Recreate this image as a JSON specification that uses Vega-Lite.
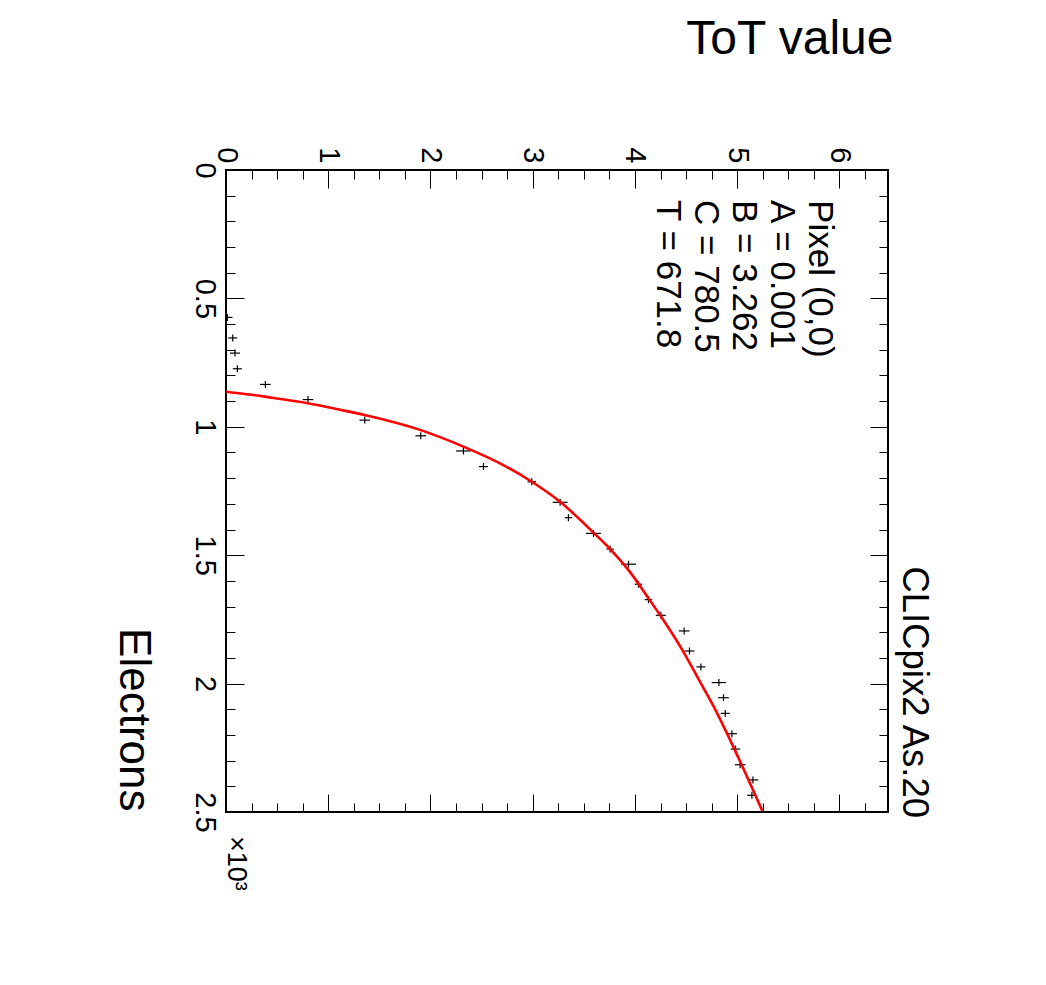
{
  "$schema": "https://vega.github.io/schema/vega-lite/v6.json",
  "width": 662,
  "height": 642,
  "autosize": {"type": "none"},
  "padding": {"left": 226, "top": 170, "right": 158, "bottom": 173},
  "background": "white",
  "config": {
    "view": {"stroke": "black", "strokeWidth": 2},
    "axis": {
      "domain": false,
      "grid": false,
      "tickColor": "black",
      "tickWidth": 1,
      "labelFont": "Liberation Sans",
      "labelFontSize": 29,
      "labelColor": "black",
      "titleFont": "Liberation Sans",
      "titleFontWeight": "normal",
      "titleColor": "black",
      "labelOverlap": false,
      "labelFlush": false,
      "labelBound": false
    }
  },
  "datasets": {
    "points": [
      {"e": 0.574, "tot": 0.013, "tot_lo": -0.037, "tot_hi": 0.063},
      {"e": 0.654, "tot": 0.066, "tot_lo": 0.022, "tot_hi": 0.110},
      {"e": 0.713, "tot": 0.088, "tot_lo": 0.039, "tot_hi": 0.137},
      {"e": 0.774, "tot": 0.111, "tot_lo": 0.067, "tot_hi": 0.155},
      {"e": 0.835, "tot": 0.385, "tot_lo": 0.333, "tot_hi": 0.437},
      {"e": 0.894, "tot": 0.802, "tot_lo": 0.750, "tot_hi": 0.854},
      {"e": 0.974, "tot": 1.357, "tot_lo": 1.305, "tot_hi": 1.409},
      {"e": 1.035, "tot": 1.905, "tot_lo": 1.853, "tot_hi": 1.957},
      {"e": 1.094, "tot": 2.322, "tot_lo": 2.249, "tot_hi": 2.395},
      {"e": 1.155, "tot": 2.518, "tot_lo": 2.474, "tot_hi": 2.562},
      {"e": 1.214, "tot": 2.991, "tot_lo": 2.949, "tot_hi": 3.033},
      {"e": 1.294, "tot": 3.268, "tot_lo": 3.195, "tot_hi": 3.341},
      {"e": 1.354, "tot": 3.349, "tot_lo": 3.313, "tot_hi": 3.385},
      {"e": 1.415, "tot": 3.594, "tot_lo": 3.521, "tot_hi": 3.667},
      {"e": 1.476, "tot": 3.757, "tot_lo": 3.721, "tot_hi": 3.793},
      {"e": 1.535, "tot": 3.937, "tot_lo": 3.864, "tot_hi": 4.010},
      {"e": 1.613, "tot": 4.034, "tot_lo": 3.998, "tot_hi": 4.070},
      {"e": 1.673, "tot": 4.132, "tot_lo": 4.095, "tot_hi": 4.169},
      {"e": 1.734, "tot": 4.253, "tot_lo": 4.204, "tot_hi": 4.302},
      {"e": 1.795, "tot": 4.481, "tot_lo": 4.429, "tot_hi": 4.533},
      {"e": 1.873, "tot": 4.533, "tot_lo": 4.484, "tot_hi": 4.582},
      {"e": 1.935, "tot": 4.645, "tot_lo": 4.601, "tot_hi": 4.689},
      {"e": 1.996, "tot": 4.821, "tot_lo": 4.751, "tot_hi": 4.891},
      {"e": 2.055, "tot": 4.866, "tot_lo": 4.814, "tot_hi": 4.918},
      {"e": 2.116, "tot": 4.883, "tot_lo": 4.839, "tot_hi": 4.927},
      {"e": 2.195, "tot": 4.948, "tot_lo": 4.899, "tot_hi": 4.997},
      {"e": 2.255, "tot": 4.983, "tot_lo": 4.937, "tot_hi": 5.029},
      {"e": 2.316, "tot": 5.029, "tot_lo": 4.977, "tot_hi": 5.081},
      {"e": 2.375, "tot": 5.154, "tot_lo": 5.102, "tot_hi": 5.206},
      {"e": 2.435, "tot": 5.144, "tot_lo": 5.098, "tot_hi": 5.190}
    ],
    "fit": [
      {"e": 0.8633, "tot": 0.0},
      {"e": 0.875, "tot": 0.25},
      {"e": 0.8867, "tot": 0.45},
      {"e": 0.908, "tot": 0.802},
      {"e": 0.930, "tot": 1.07},
      {"e": 0.954, "tot": 1.357},
      {"e": 1.012, "tot": 1.898},
      {"e": 1.077, "tot": 2.322},
      {"e": 1.149, "tot": 2.713},
      {"e": 1.214, "tot": 2.991},
      {"e": 1.292, "tot": 3.268},
      {"e": 1.412, "tot": 3.594},
      {"e": 1.476, "tot": 3.757},
      {"e": 1.558, "tot": 3.937},
      {"e": 1.672, "tot": 4.140},
      {"e": 1.739, "tot": 4.255},
      {"e": 1.859, "tot": 4.448},
      {"e": 1.999, "tot": 4.645},
      {"e": 2.090, "tot": 4.771},
      {"e": 2.194, "tot": 4.900},
      {"e": 2.313, "tot": 5.040},
      {"e": 2.414, "tot": 5.155},
      {"e": 2.495, "tot": 5.245}
    ],
    "info": [
      {"label": "Pixel (0,0)\nA = 0.001\nB = 3.262\nC = 780.5\nT = 671.8"}
    ],
    "scale_note": [
      {"label": "×10³"}
    ],
    "heading": [
      {"label": "CLICpix2 As.20"}
    ]
  },
  "layer": [
    {
      "data": {"name": "points"},
      "mark": {"type": "rule", "color": "black", "strokeWidth": 1.2, "clip": true},
      "encoding": {
        "x": {
          "field": "tot_lo", "type": "quantitative",
          "scale": {"domain": [0, 6.475], "nice": false, "zero": false},
          "title": "ToT value",
          "axis": {
            "orient": "top", "values": [0, 1, 2, 3, 4, 5, 6], "offset": -18, "tickSize": 18,
            "labelAngle": 90, "labelAlign": "right", "labelBaseline": "middle", "labelPadding": 7, "format": "~g",
            "titleFontSize": 48, "titleAngle": 0, "titleAlign": "right", "titleBaseline": "alphabetic",
            "titleX": 667, "titleY": -135
          }
        },
        "x2": {"field": "tot_hi"},
        "y": {
          "field": "e", "type": "quantitative",
          "scale": {"domain": [0, 2.5], "nice": false, "zero": false, "reverse": true},
          "title": "Electrons",
          "axis": {
            "orient": "left", "values": [0, 0.5, 1, 1.5, 2, 2.5], "offset": -18, "tickSize": 18,
            "labelAngle": 90, "labelAlign": "center", "labelBaseline": "top", "labelPadding": 8, "format": "~g",
            "titleFontSize": 44, "titleAngle": 90, "titleAlign": "right", "titleBaseline": "top",
            "titleX": -90, "titleY": 641
          }
        }
      }
    },
    {
      "data": {"name": "points"},
      "mark": {"type": "tick", "orient": "vertical", "size": 7, "thickness": 1.2, "color": "black", "opacity": 1},
      "encoding": {
        "x": {
          "field": "tot", "type": "quantitative",
          "scale": {"domain": [0, 6.475], "nice": false, "zero": false},
          "title": null,
          "axis": {
            "orient": "top", "offset": -9, "tickSize": 9, "labels": false,
            "values": [0.25, 0.5, 0.75, 1.25, 1.5, 1.75, 2.25, 2.5, 2.75, 3.25, 3.5, 3.75, 4.25, 4.5, 4.75, 5.25, 5.5, 5.75, 6.25]
          }
        },
        "y": {
          "field": "e", "type": "quantitative",
          "scale": {"domain": [0, 2.5], "nice": false, "zero": false, "reverse": true},
          "title": null,
          "axis": {
            "orient": "left", "offset": -9, "tickSize": 9, "labels": false,
            "values": [0.1, 0.2, 0.3, 0.4, 0.6, 0.7, 0.8, 0.9, 1.1, 1.2, 1.3, 1.4, 1.6, 1.7, 1.8, 1.9, 2.1, 2.2, 2.3, 2.4]
          }
        }
      }
    },
    {
      "data": {"name": "fit"},
      "mark": {"type": "line", "color": "#ff0000", "strokeWidth": 2.6, "interpolate": "monotone", "clip": true},
      "encoding": {
        "x": {
          "field": "tot", "type": "quantitative",
          "scale": {"domain": [0, 6.475], "nice": false, "zero": false},
          "title": null,
          "axis": {"orient": "bottom", "offset": -18, "tickSize": 18, "labels": false, "values": [0, 1, 2, 3, 4, 5, 6]}
        },
        "y": {
          "field": "e", "type": "quantitative",
          "scale": {"domain": [0, 2.5], "nice": false, "zero": false, "reverse": true},
          "title": null,
          "axis": {"orient": "right", "offset": -18, "tickSize": 18, "labels": false, "values": [0, 0.5, 1, 1.5, 2, 2.5]}
        },
        "order": {"field": "e", "type": "quantitative"}
      }
    },
    {
      "data": {"name": "info"},
      "mark": {
        "type": "text", "angle": 90, "align": "left", "baseline": "top", "lineBreak": "\n", "lineHeight": 38,
        "font": "Liberation Sans", "fontSize": 35, "color": "black"
      },
      "encoding": {
        "x": {
          "datum": 5.974, "type": "quantitative",
          "scale": {"domain": [0, 6.475], "nice": false, "zero": false},
          "title": null,
          "axis": {
            "orient": "bottom", "offset": -9, "tickSize": 9, "labels": false,
            "values": [0.25, 0.5, 0.75, 1.25, 1.5, 1.75, 2.25, 2.5, 2.75, 3.25, 3.5, 3.75, 4.25, 4.5, 4.75, 5.25, 5.5, 5.75, 6.25]
          }
        },
        "y": {
          "datum": 0.117, "type": "quantitative",
          "scale": {"domain": [0, 2.5], "nice": false, "zero": false, "reverse": true},
          "title": null,
          "axis": {
            "orient": "right", "offset": -9, "tickSize": 9, "labels": false,
            "values": [0.1, 0.2, 0.3, 0.4, 0.6, 0.7, 0.8, 0.9, 1.1, 1.2, 1.3, 1.4, 1.6, 1.7, 1.8, 1.9, 2.1, 2.2, 2.3, 2.4]
          }
        },
        "text": {"field": "label"}
      }
    },
    {
      "data": {"name": "scale_note"},
      "mark": {
        "type": "text", "angle": 90, "align": "left", "baseline": "alphabetic", "dx": 24,
        "font": "Liberation Sans", "fontSize": 27, "color": "black"
      },
      "encoding": {
        "x": {"datum": 0.02, "type": "quantitative", "scale": {"domain": [0, 6.475], "nice": false, "zero": false}, "axis": null},
        "y": {"datum": 2.5, "type": "quantitative", "scale": {"domain": [0, 2.5], "nice": false, "zero": false, "reverse": true}, "axis": null},
        "text": {"field": "label"}
      }
    },
    {
      "data": {"name": "heading"},
      "mark": {
        "type": "text", "angle": 90, "align": "right", "baseline": "alphabetic", "dx": 6,
        "font": "Liberation Sans", "fontSize": 36.5, "color": "black"
      },
      "encoding": {
        "x": {"datum": 6.624, "type": "quantitative", "scale": {"domain": [0, 6.475], "nice": false, "zero": false}, "axis": null},
        "y": {"datum": 2.5, "type": "quantitative", "scale": {"domain": [0, 2.5], "nice": false, "zero": false, "reverse": true}, "axis": null},
        "text": {"field": "label"}
      }
    }
  ],
  "resolve": {"axis": {"x": "independent", "y": "independent"}}
}
